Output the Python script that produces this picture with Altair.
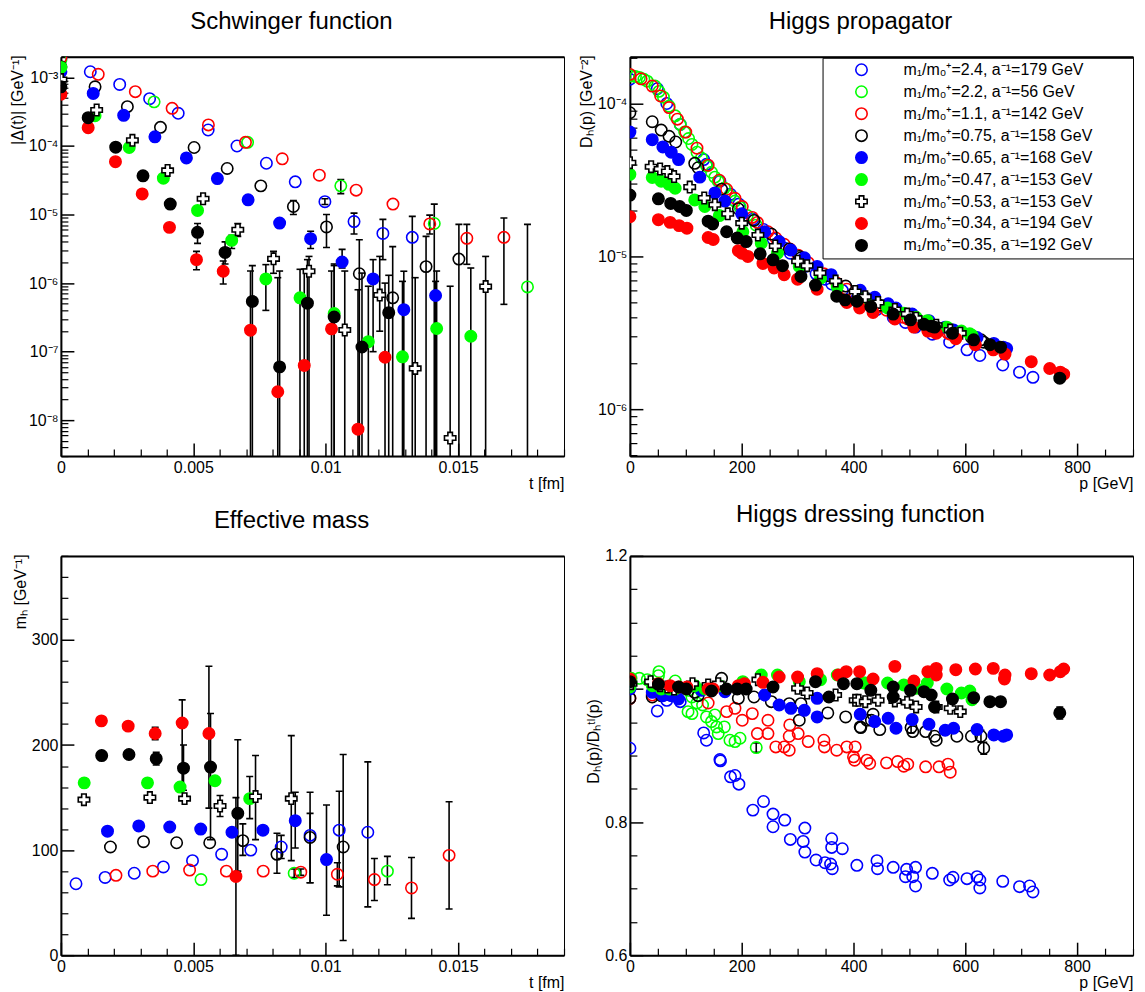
import altair as alt
import pandas as pd

FONT = "Liberation Sans"
PADL = "\u2800" * 3

KEYS = ["bo", "go", "ro", "ko", "bf", "gf", "wc", "rf", "kf"]
LABELS = [
    "m₁/m₀⁺=2.4, a⁻¹=179 GeV" + PADL,
    "m₁/m₀⁺=2.2, a⁻¹=56 GeV" + PADL,
    "m₁/m₀⁺=1.1, a⁻¹=142 GeV" + PADL,
    "m₁/m₀⁺=0.75, a⁻¹=158 GeV" + PADL,
    "m₁/m₀⁺=0.65, a⁻¹=168 GeV" + PADL,
    "m₁/m₀⁺=0.47, a⁻¹=153 GeV" + PADL,
    "m₁/m₀⁺=0.53, a⁻¹=153 GeV" + PADL,
    "m₁/m₀⁺=0.34, a⁻¹=194 GeV" + PADL,
    "m₁/m₀⁺=0.35, a⁻¹=192 GeV" + PADL,
]
STROKES = ["#0000ff", "#00ff00", "#ff0000", "#000000", "#0000ff", "#00ff00", "#000000", "#ff0000", "#000000"]
FILLS = ["transparent", "transparent", "transparent", "transparent", "#0000ff", "#00ff00", "#ffffff", "#ff0000", "#000000"]
SHAPES = ["circle", "circle", "circle", "circle", "circle", "circle", "cross", "circle", "circle"]

# ---------------- Schwinger function |Delta(t)| ----------------
SCHW_T = {
    "bo": [0, 0.00111, 0.00222, 0.00335, 0.00443, 0.00556, 0.00665, 0.00776, 0.00885, 0.00997, 0.01107, 0.01216, 0.01327],
    "go": [0, 0.00352, 0.00705, 0.01057, 0.01410, 0.01762],
    "ro": [0, 0.00141, 0.00281, 0.00420, 0.00557, 0.00697, 0.00836, 0.00976, 0.01115, 0.01254, 0.01393, 0.01533, 0.01673],
    "ko": [0, 0.00129, 0.00251, 0.00376, 0.00503, 0.00628, 0.00755, 0.00878, 0.01003, 0.01127, 0.01253, 0.01379, 0.01503],
    "bf": [0, 0.00122, 0.00237, 0.00355, 0.00474, 0.00591, 0.00707, 0.00826, 0.00943, 0.01062, 0.01179, 0.01295, 0.01415],
    "gf": [0, 0.00129, 0.00258, 0.00387, 0.00516, 0.00645, 0.00774, 0.00903, 0.01032, 0.01161, 0.01290, 0.01419, 0.01548],
    "wc": [0, 0.00135, 0.00270, 0.00403, 0.00537, 0.00668, 0.00803, 0.00937, 0.01072, 0.01204, 0.01338, 0.01470, 0.01604],
    "rf": [0, 0.00103, 0.00206, 0.00307, 0.00410, 0.00512, 0.00613, 0.00716, 0.00819, 0.00919, 0.01022, 0.01122, 0.01224],
    "kf": [0, 0.00103, 0.00207, 0.00310, 0.00413, 0.00516, 0.00620, 0.00723, 0.00826, 0.00931, 0.01032, 0.01137, 0.01238],
}
SCHW_V = {
    "bo": [1.9e-3, 1.21e-3, 7.9e-4, 4.9e-4, 3.0e-4, 1.71e-4, 1.0e-4, 5.6e-5, 3.0e-5, 1.54e-5, 7.9e-6, 5.3e-6, 4.65e-6],
    "go": [1.8e-3, 4.4e-4, 1.13e-4, 2.62e-5, 7.4e-6, 8.8e-7],
    "ro": [1.95e-3, 1.11e-3, 6.2e-4, 3.54e-4, 2.03e-4, 1.13e-4, 6.5e-5, 3.75e-5, 2.27e-5, 1.42e-5, 7.3e-6, 4.5e-6, 4.65e-6],
    "ko": [1.43e-3, 7.3e-4, 3.75e-4, 1.87e-4, 9.5e-5, 4.7e-5, 2.62e-5, 1.31e-5, 6.6e-6, 1.37e-6, 6.1e-7, 1.74e-6, 2.24e-6],
    "bf": [1.21e-3, 5.85e-4, 2.8e-4, 1.36e-4, 6.7e-5, 3.35e-5, 1.64e-5, 7.5e-6, 4.45e-6, 2.03e-6, 1.15e-6, 4.1e-7, 6.6e-7],
    "gf": [1.4e-3, 2.77e-4, 9.5e-5, 3.39e-5, 1.15e-5, 4.2e-6, 1.15e-6, 6.1e-7, 3.6e-7, 1.4e-7, 8.4e-8, 2.18e-7, 1.68e-7],
    "wc": [9.3e-4, 3.35e-4, 1.21e-4, 4.4e-5, 1.70e-5, 6.0e-6, 2.26e-6, 1.49e-6, 2.07e-7, 6.7e-7, 5.7e-8, 5.5e-9, 8.9e-7],
    "rf": [5.7e-4, 1.85e-4, 5.9e-5, 2.0e-5, 6.5e-6, 2.2e-6, 1.49e-6, 2.06e-7, 2.6e-8, 6.3e-8, 2.15e-7, 7.4e-9, 8.3e-8],
    "kf": [7.3e-4, 2.59e-4, 9.6e-5, 3.67e-5, 1.42e-5, 5.5e-6, 2.8e-6, 5.4e-7, 6.0e-8, 5.1e-7, 3.2e-7, 1.17e-7, 3.7e-7],
}
# (point index, low, high)
SCHW_ERR = {
    "bo": [(9, 1.4e-5, 1.7e-5), (10, 5.2e-6, 1.05e-5), (11, 2.2e-6, 8.5e-6), (12, 1e-10, 9.4e-6)],
    "go": [(3, 2.02e-5, 3.24e-5), (4, 1e-10, 1.42e-5), (5, 1e-10, 7.2e-6)],
    "ro": [(10, 5.2e-6, 9.8e-6), (11, 1.88e-6, 7.2e-6), (12, 4.9e-7, 8.9e-6)],
    "ko": [(7, 1.0e-5, 1.6e-5), (8, 3.3e-6, 1.0e-5), (9, 1e-10, 4.3e-6), (10, 1e-10, 3.4e-6), (11, 1e-10, 4.8e-6), (12, 1e-10, 7.2e-6)],
    "bf": [(8, 3.2e-6, 5.7e-6), (9, 1.66e-6, 3.1e-6), (10, 1.0e-7, 2.2e-6), (11, 1e-10, 1.49e-6), (12, 1e-10, 1.06e-6)],
    "gf": [(5, 3.2e-6, 5.0e-6), (6, 4.0e-7, 1.86e-6), (7, 1e-10, 1.59e-6), (8, 1e-10, 1.9e-6), (9, 1e-10, 9e-7), (10, 1e-10, 1.06e-6), (11, 1e-10, 1.5e-6), (12, 1e-10, 1.66e-6)],
    "wc": [(5, 4.8e-6, 7.4e-6), (6, 1.39e-6, 2.9e-6), (7, 1e-10, 2.45e-6), (8, 1e-10, 1.5e-6), (9, 1.99e-7, 2.45e-6), (10, 1e-10, 1.2e-6), (11, 1e-10, 9.0e-7), (12, 1e-10, 2.45e-6)],
    "rf": [(5, 1.57e-6, 2.9e-6), (6, 9.7e-7, 2.1e-6), (7, 1e-10, 1.5e-6), (8, 1e-10, 1.2e-6), (9, 1e-10, 1.6e-6), (10, 1e-10, 1.5e-6), (11, 1e-10, 8e-7), (12, 1e-10, 1.0e-6)],
    "kf": [(5, 3.8e-6, 7.4e-6), (6, 1.9e-6, 4.0e-6), (7, 1e-10, 1.8e-6), (8, 1e-10, 1.5e-6), (9, 1e-10, 2.2e-6), (10, 1e-10, 1.8e-6), (11, 1e-10, 1.4e-6), (12, 1e-10, 1.3e-6)],
}

# ---------------- Higgs propagator D_H(p) ----------------
PROP_P = {
    "bo": [0, 49, 66, 90, 132, 137, 161, 180, 195, 220, 239, 256, 277, 287, 310, 313, 333, 349, 361, 380, 406, 442, 471, 493, 511, 541, 572, 603, 626, 667, 697, 721],
    "go": [0, 10, 17, 25, 31, 45, 52, 60, 70, 81, 90, 98, 105, 111, 120, 128, 137, 146, 152, 158, 169, 179, 188, 197, 210, 226],
    "ro": [0, 20, 40, 55, 70, 85, 100, 120, 140, 160, 173, 188, 201, 219, 228, 247, 261, 276, 286, 301, 319, 347, 370, 388, 403, 424, 445, 459, 479, 490, 497, 529, 553, 569, 573],
    "ko": [0, 40, 56, 70, 82, 116, 122, 164, 194, 222, 253, 285, 303, 306, 354, 386, 413, 424, 432, 447, 503, 506, 529, 545, 548, 585, 611, 628, 633],
    "bf": [0, 40, 59, 74, 87, 125, 152, 170, 200, 241, 267, 288, 312, 335, 360, 412, 438, 462, 476, 505, 535, 564, 579, 621, 651, 668, 674],
    "gf": [0, 40, 56, 70, 81, 116, 134, 160, 202, 235, 264, 303, 341, 371, 418, 421, 461, 490, 512, 532, 567, 593, 608, 612],
    "wc": [0, 38, 54, 67, 79, 107, 133, 152, 175, 200, 229, 260, 300, 317, 340, 368, 403, 421, 444, 474, 496, 512, 548, 573, 591],
    "rf": [0, 51, 72, 88, 102, 140, 149, 194, 200, 211, 238, 258, 276, 300, 335, 388, 411, 435, 474, 508, 533, 548, 583, 618, 650, 671, 718, 751, 770, 776],
    "kf": [0, 51, 73, 89, 101, 140, 148, 173, 192, 208, 233, 256, 273, 306, 332, 370, 385, 406, 431, 471, 502, 526, 539, 545, 577, 615, 644, 663, 769],
}
PROP_D = {
    "bo": [1.44e-4, 1.25e-4, 1.0e-4, 7.3e-5, 4.3e-5, 4.0e-5, 3.1e-5, 2.55e-5, 2.2e-5, 1.75e-5, 1.5e-5, 1.3e-5, 1.13e-5, 1.05e-5, 9.0e-6, 8.6e-6, 7.7e-6, 7.1e-6, 6.6e-6, 6.0e-6, 5.3e-6, 4.5e-6, 4.0e-6, 3.7e-6, 3.45e-6, 3.1e-6, 2.75e-6, 2.45e-6, 2.25e-6, 1.95e-6, 1.75e-6, 1.62e-6],
    "go": [1.52e-4, 1.5e-4, 1.48e-4, 1.44e-4, 1.4e-4, 1.3e-4, 1.2e-4, 1.1e-4, 9.6e-5, 8.3e-5, 7.3e-5, 6.5e-5, 5.9e-5, 5.4e-5, 4.8e-5, 4.4e-5, 3.9e-5, 3.55e-5, 3.3e-5, 3.1e-5, 2.8e-5, 2.5e-5, 2.3e-5, 2.1e-5, 1.85e-5, 1.6e-5],
    "ro": [1.55e-4, 1.45e-4, 1.3e-4, 1.12e-4, 9.4e-5, 7.9e-5, 6.5e-5, 5.1e-5, 3.95e-5, 3.15e-5, 2.75e-5, 2.4e-5, 2.12e-5, 1.8e-5, 1.67e-5, 1.45e-5, 1.32e-5, 1.2e-5, 1.12e-5, 1.02e-5, 9.1e-6, 7.7e-6, 6.7e-6, 6.1e-6, 5.7e-6, 5.1e-6, 4.7e-6, 4.45e-6, 4.15e-6, 4.0e-6, 3.9e-6, 3.55e-6, 3.3e-6, 3.15e-6, 3.1e-6],
    "ko": [8.7e-5, 7.6e-5, 6.7e-5, 6.1e-5, 5.6e-5, 4.06e-5, 3.8e-5, 2.75e-5, 2.05e-5, 1.72e-5, 1.4e-5, 1.12e-5, 1.0e-5, 9.8e-6, 7.5e-6, 6.4e-6, 5.6e-6, 5.3e-6, 5.1e-6, 4.8e-6, 3.95e-6, 3.9e-6, 3.65e-6, 3.5e-6, 3.45e-6, 3.15e-6, 2.95e-6, 2.85e-6, 2.75e-6],
    "bf": [6.5e-5, 5.8e-5, 5.2e-5, 4.8e-5, 4.3e-5, 3.3e-5, 2.6e-5, 2.3e-5, 1.9e-5, 1.45e-5, 1.25e-5, 1.1e-5, 9.8e-6, 8.6e-6, 7.6e-6, 6.0e-6, 5.4e-6, 4.9e-6, 4.6e-6, 4.2e-6, 3.8e-6, 3.45e-6, 3.3e-6, 2.95e-6, 2.7e-6, 2.55e-6, 2.5e-6],
    "gf": [3.44e-5, 3.28e-5, 3.1e-5, 2.96e-5, 2.79e-5, 2.34e-5, 2.12e-5, 1.85e-5, 1.45e-5, 1.22e-5, 1.05e-5, 8.6e-6, 7.2e-6, 6.3e-6, 5.3e-6, 5.25e-6, 4.6e-6, 4.25e-6, 4.0e-6, 3.8e-6, 3.45e-6, 3.25e-6, 3.12e-6, 3.05e-6],
    "wc": [4.1e-5, 3.86e-5, 3.73e-5, 3.59e-5, 3.33e-5, 2.84e-5, 2.41e-5, 2.18e-5, 1.9e-5, 1.65e-5, 1.38e-5, 1.17e-5, 9.3e-6, 8.7e-6, 7.8e-6, 6.9e-6, 5.9e-6, 5.45e-6, 5.0e-6, 4.5e-6, 4.2e-6, 3.95e-6, 3.55e-6, 3.3e-6, 3.15e-6],
    "rf": [1.82e-5, 1.74e-5, 1.67e-5, 1.59e-5, 1.53e-5, 1.33e-5, 1.29e-5, 1.09e-5, 1.05e-5, 1.0e-5, 9.0e-6, 8.4e-6, 7.6e-6, 7.1e-6, 6.1e-6, 5.0e-6, 4.6e-6, 4.3e-6, 3.9e-6, 3.45e-6, 3.25e-6, 3.15e-6, 2.9e-6, 2.65e-6, 2.45e-6, 2.3e-6, 2.05e-6, 1.85e-6, 1.75e-6, 1.7e-6],
    "kf": [2.52e-5, 2.38e-5, 2.22e-5, 2.12e-5, 2.0e-5, 1.7e-5, 1.63e-5, 1.45e-5, 1.32e-5, 1.25e-5, 1.04e-5, 9.5e-6, 8.7e-6, 7.4e-6, 6.5e-6, 5.5e-6, 5.2e-6, 5.1e-6, 4.7e-6, 4.2e-6, 3.85e-6, 3.6e-6, 3.5e-6, 3.45e-6, 3.15e-6, 2.85e-6, 2.65e-6, 2.55e-6, 1.6e-6],
}
PROP_ERR = {}

# ---------------- Effective mass m_H(t) ----------------
MEFF_T = {
    "bo": [0.00057, 0.00167, 0.00277, 0.00387, 0.00497, 0.00607, 0.00717, 0.00832, 0.00941, 0.01051, 0.01159],
    "go": [0.00529, 0.00881, 0.01233],
    "ro": [0.00208, 0.00347, 0.00486, 0.00625, 0.00764, 0.00906, 0.01044, 0.01184, 0.01324, 0.01466],
    "ko": [0.00187, 0.00312, 0.00437, 0.00562, 0.00687, 0.00816, 0.00941, 0.01066],
    "bf": [0.00176, 0.00294, 0.00411, 0.00528, 0.00646, 0.00763, 0.00885, 0.01003],
    "gf": [0.00088, 0.00327, 0.00450, 0.00582, 0.00713],
    "wc": [0.00087, 0.00336, 0.00467, 0.00601, 0.00735, 0.00870],
    "rf": [0.00153, 0.00254, 0.00356, 0.00458, 0.00559, 0.00661],
    "kf": [0.00154, 0.00257, 0.00360, 0.00463, 0.00565, 0.00668],
}
MEFF_M = {
    "bo": [68, 74, 78, 84, 90, 96, 100, 103, 114, 119, 117],
    "go": [72, 78, 80],
    "ro": [76, 80, 81, 80, 80, 79, 77, 72, 64, 95],
    "ko": [103, 108, 107, 107, 109, 96, 112, 103],
    "bf": [118, 123, 122, 120, 117, 119, 128, 91],
    "gf": [164, 164, 160, 166, 149],
    "wc": [148, 150, 149, 142, 151, 149],
    "rf": [223, 218, 211, 221, 211, 75],
    "kf": [190, 191, 187, 178, 179, 135],
}
MEFF_ERR = {
    "bo": [(7, 92, 114), (8, 69, 155), (9, 65, 156), (10, 46, 184)],
    "go": [(1, 74, 82), (2, 67, 94)],
    "ro": [(5, 76, 82), (6, 66, 88), (7, 52, 92), (8, 35, 93), (9, 44, 146)],
    "ko": [(4, 95, 125), (5, 78, 116), (6, 69, 135), (7, 14, 191)],
    "bf": [(6, 102, 155), (7, 38, 143)],
    "gf": [(4, 130, 170)],
    "wc": [(3, 132, 152), (4, 110, 190), (5, 90, 209)],
    "rf": [(2, 205, 217), (3, 157, 243), (4, 140, 275), (5, 0, 150)],
    "kf": [(2, 181, 193), (3, 157, 200), (4, 110, 230), (5, 80, 205)],
}

# ---------------- Higgs dressing function ----------------
DRESS_P = {
    "bo": [0, 49, 66, 90, 132, 137, 161, 162, 180, 188, 195, 220, 239, 256, 256, 277, 287, 313, 310, 313, 333, 349, 359, 361, 361, 362, 380, 406, 442, 443, 471, 495, 493, 506, 511, 511, 541, 572, 578, 603, 621, 626, 626, 667, 697, 715, 721],
    "go": [2, 17, 31, 52, 51, 81, 105, 111, 120, 104, 111, 130, 137, 152, 146, 155, 169, 158, 179, 188, 197, 226],
    "ro": [0, 40, 70, 140, 173, 188, 201, 219, 228, 247, 247, 261, 276, 285, 286, 285, 301, 319, 347, 348, 370, 388, 403, 400, 424, 402, 429, 459, 479, 490, 497, 529, 553, 569, 573],
    "ko": [0, 40, 56, 70, 82, 116, 122, 164, 194, 222, 253, 285, 306, 303, 354, 386, 412, 424, 413, 432, 435, 447, 503, 506, 529, 545, 548, 585, 611, 628, 633],
    "bf": [0, 40, 59, 74, 87, 128, 170, 241, 267, 288, 312, 335, 335, 412, 438, 462, 476, 505, 535, 564, 579, 621, 651, 668, 674],
    "gf": [0, 40, 56, 70, 81, 116, 134, 160, 202, 235, 264, 303, 341, 371, 418, 421, 461, 490, 512, 532, 567, 593, 608, 612],
    "wc": [2, 37, 54, 67, 79, 112, 140, 158, 229, 300, 317, 368, 403, 409, 421, 444, 474, 496, 512, 548, 573, 591],
    "rf": [0, 51, 72, 88, 102, 140, 149, 194, 205, 238, 267, 300, 335, 373, 387, 411, 435, 474, 508, 533, 548, 548, 583, 618, 650, 670, 671, 718, 751, 770, 776],
    "kf": [0, 51, 87, 101, 146, 173, 192, 208, 256, 332, 356, 382, 406, 431, 471, 471, 502, 526, 539, 545, 577, 615, 644, 663, 769],
}
DRESS_R = {
    "bo": [0.911, 0.967, 0.983, 0.981, 0.934, 0.923, 0.894, 0.892, 0.868, 0.870, 0.857, 0.818, 0.831, 0.812, 0.793, 0.803, 0.774, 0.791, 0.771, 0.755, 0.743, 0.739, 0.737, 0.775, 0.762, 0.730, 0.760, 0.735, 0.742, 0.730, 0.732, 0.729, 0.718, 0.718, 0.732, 0.704, 0.723, 0.713, 0.717, 0.715, 0.718, 0.713, 0.701, 0.711, 0.703, 0.704, 0.695],
    "go": [1.016, 1.016, 1.014, 1.026, 1.020, 1.012, 0.998, 0.988, 0.979, 0.966, 0.963, 0.976, 0.958, 0.961, 0.951, 0.943, 0.943, 0.933, 0.923, 0.921, 0.926, 0.912],
    "ro": [0.986, 0.991, 0.992, 0.979, 0.966, 0.971, 0.953, 0.963, 0.933, 0.953, 0.933, 0.913, 0.913, 0.908, 0.946, 0.929, 0.933, 0.921, 0.923, 0.913, 0.908, 0.913, 0.913, 0.898, 0.893, 0.893, 0.888, 0.889, 0.891, 0.884, 0.887, 0.883, 0.883, 0.887, 0.875],
    "ko": [0.986, 0.988, 0.990, 0.992, 0.990, 0.995, 0.990, 1.016, 0.986, 0.988, 0.981, 0.978, 0.978, 0.953, 0.964, 0.958, 0.943, 0.953, 0.942, 0.953, 0.962, 0.939, 0.942, 0.936, 0.936, 0.929, 0.923, 0.929, 0.929, 0.929, 0.911],
    "bf": [1.0, 0.995, 0.99, 0.99, 0.985, 0.998, 0.996, 0.991, 0.976, 0.971, 0.968, 0.986, 0.958, 0.962, 0.951, 0.956, 0.941, 0.954, 0.947, 0.938, 0.941, 0.939, 0.931, 0.929, 0.931],
    "gf": [1.003, 1.005, 1.0, 1.0, 1.0, 1.005, 1.0, 1.005, 1.011, 1.021, 1.021, 1.011, 1.014, 1.021, 1.009, 1.009, 1.009, 1.006, 1.001, 1.009, 1.0, 0.994, 0.997, 0.984],
    "wc": [1.008, 1.011, 1.005, 1.003, 1.0, 1.008, 1.006, 1.008, 1.014, 1.001, 0.994, 0.991, 0.983, 0.983, 0.981, 0.983, 0.982, 0.980, 0.973, 0.973, 0.971, 0.966],
    "rf": [1.015, 1.008, 1.005, 1.003, 1.003, 1.0, 1.0, 1.005, 1.008, 1.01, 1.018, 1.018, 1.023, 1.021, 1.026, 1.026, 1.015, 1.034, 1.012, 1.026, 1.031, 1.021, 1.029, 1.030, 1.031, 1.015, 1.021, 1.023, 1.021, 1.026, 1.030],
    "kf": [1.011, 1.007, 1.003, 1.0, 0.997, 1.0, 1.0, 1.0, 1.003, 1.011, 0.988, 1.008, 1.008, 0.998, 1.003, 0.988, 0.998, 0.996, 0.991, 0.973, 0.985, 0.987, 0.981, 0.981, 0.964],
}
DRESS_ERR = {
    "kf": [(24, 0.955, 0.973), (3, 0.994, 1.006)],
    "ko": [(29, 0.920, 0.938), (30, 0.902, 0.920), (22, 0.934, 0.950)],
    "go": [(21, 0.905, 0.919)],
}

SUP = {"-": "⁻", "0": "⁰", "1": "¹", "2": "²", "3": "³", "4": "⁴", "5": "⁵", "6": "⁶", "7": "⁷", "8": "⁸", "9": "⁹"}


def sup(n):
    return "".join(SUP[c] for c in str(n))


def log_label_expr(exps):
    s = ""
    for e in exps:
        s += f"abs(log(datum.value)/LN10 - ({e})) < 0.01 ? '10{sup(e)}' : "
    return s + "''"


def log_minor(lo_exp, hi_exp, vmin, vmax):
    out = []
    for e in range(lo_exp, hi_exp + 1):
        for k in range(2, 10):
            v = k * 10.0 ** e
            if vmin <= v <= vmax:
                out.append(float(f"{v:.3g}"))
    return out


def lin_ticks(start, stop, step, exclude_step):
    out = []
    n = int(round((stop - start) / step))
    for i in range(n + 1):
        v = round(start + i * step, 6)
        if abs(round(v / exclude_step) * exclude_step - v) > 1e-9:
            out.append(v)
    return out


def pts_df(X, Y):
    rows = []
    for k, lab in zip(KEYS, LABELS):
        for xv, yv in zip(X[k], Y[k]):
            rows.append({"label": lab, "x": xv, "y": yv})
    return pd.DataFrame(rows)


def err_dfs(X, ERR):
    rows, caps = [], []
    for k in KEYS:
        for idx, lo, hi in ERR.get(k, []):
            xv = X[k][idx]
            rows.append({"x": xv, "lo": lo, "hi": hi})
            caps.append({"x": xv, "yv": lo})
            caps.append({"x": xv, "yv": hi})
    if not rows:
        rows = [{"x": -1.0, "lo": -1.0, "hi": -1.0}]
        caps = [{"x": -1.0, "yv": -1.0}]
    return pd.DataFrame(rows), pd.DataFrame(caps)


AXIS_COMMON = dict(grid=False, labelFont=FONT, labelFontSize=16, labelColor="black",
                   tickColor="black", titleFont=FONT, titleFontSize=16, titleFontWeight="normal",
                   titleColor="black", labelFlush=False, labelOverlap=False, labelBound=False)


def major_x_axis(values, label_expr, title):
    return alt.Axis(orient="bottom", values=values, tickSize=13, offset=-13, domain=False,
                    tickWidth=1.5, labelExpr=label_expr, labelPadding=3,
                    title=title, titleAnchor="end", titlePadding=0, **AXIS_COMMON)


def major_y_axis(values, label_expr, title, title_y):
    return alt.Axis(orient="left", values=values, tickSize=13, offset=-13, domain=False,
                    tickWidth=1.5, labelExpr=label_expr, labelPadding=3,
                    title=title, titleAngle=270, titleAlign="right", titleY=title_y,
                    titlePadding=3, **AXIS_COMMON)


def minor_axis(orient, values):
    return alt.Axis(orient=orient, values=values, tickSize=7, offset=-7, domain=False,
                    tickWidth=1.2, labels=False, title=None, **AXIS_COMMON)


def dom_axis(orient, width=2):
    return alt.Axis(orient=orient, ticks=False, labels=False, domain=True, domainColor="black",
                    domainWidth=width, title=None, grid=False)


PW, PH = 504, 400


def panel(pdf, edf, cdf, xs, ys, xmaj, xmin, ymaj, ymin, title, show_legend):
    def X(ax):
        return alt.X("x:Q", scale=xs, axis=ax)

    def Y(ax, field="y:Q"):
        return alt.Y(field, scale=ys, axis=ax)

    l_major = alt.Chart(pdf).mark_point(opacity=0).encode(x=X(xmaj), y=Y(ymaj))
    l_minor = alt.Chart(pdf).mark_point(opacity=0).encode(x=X(xmin), y=Y(ymin))
    l_top = alt.Chart(pdf).mark_point(opacity=0).encode(x=X(dom_axis("top")), y=Y(None))
    rules = alt.Chart(edf).mark_rule(color="black", strokeWidth=1.6, clip=True).encode(
        x=X(None), y=Y(None, "lo:Q"), y2="hi:Q")
    caps = alt.Chart(cdf).mark_tick(orient="horizontal", size=7, thickness=1.6, color="black",
                                    clip=True, opacity=1).encode(x=X(None), y=Y(None, "yv:Q"))
    if show_legend:
        leg = alt.Legend(title=None, orient="none", legendX=193, legendY=1, padding=4,
                         strokeColor="black", fillColor="white", labelFont=FONT, labelFontSize=16,
                         labelColor="black", symbolSize=130, symbolStrokeWidth=1.6,
                         rowPadding=4, symbolOffset=27, labelOffset=34, labelLimit=500)
    else:
        leg = None
    pts = alt.Chart(pdf).mark_point(filled=True, opacity=1, size=130, strokeWidth=1.6, clip=True).encode(
        x=X(dom_axis("bottom")), y=Y(dom_axis("left")),
        shape=alt.Shape("label:N", scale=alt.Scale(domain=LABELS, range=SHAPES), legend=leg),
        stroke=alt.Stroke("label:N", scale=alt.Scale(domain=LABELS, range=STROKES), legend=leg),
        fill=alt.Fill("label:N", scale=alt.Scale(domain=LABELS, range=FILLS), legend=leg),
    )
    return alt.layer(l_major, l_minor, l_top, rules, caps, pts).resolve_axis(
        x="independent", y="independent").properties(
        width=PW, height=PH,
        title=alt.TitleParams(text=title, font=FONT, fontSize=24, fontWeight="normal",
                              color="black", anchor="middle", offset=21, dx=-21))


# scales
x_t = alt.Scale(domain=[0, 0.019], nice=False, zero=False)
x_p = alt.Scale(domain=[0, 900], nice=False, zero=False)
y_schw = alt.Scale(type="log", domain=[3.0e-9, 2.0e-3], nice=False)
y_prop = alt.Scale(type="log", domain=[4.95e-7, 2.02e-4], nice=False)
y_meff = alt.Scale(domain=[0, 380], nice=False, zero=False)
y_dress = alt.Scale(domain=[0.6, 1.2], nice=False, zero=False)

t_major = major_x_axis([0, 0.005, 0.01, 0.015], "format(datum.value, '~g')", "t [fm]")
t_minor = minor_axis("bottom", lin_ticks(0, 0.019, 0.001, 0.005))
p_major = major_x_axis([0, 200, 400, 600, 800], "format(datum.value, 'd')", "p [GeV]")
p_minor = minor_axis("bottom", lin_ticks(0, 900, 50, 200))

schw_ymaj = major_y_axis([1e-8, 1e-7, 1e-6, 1e-5, 1e-4, 1e-3], log_label_expr([-8, -7, -6, -5, -4, -3]),
                         "|Δ(t)| [GeV⁻¹]", -2)
schw_ymin = minor_axis("left", log_minor(-9, -3, 3.0e-9, 2.0e-3))
prop_ymaj = major_y_axis([1e-6, 1e-5, 1e-4], log_label_expr([-6, -5, -4]), "Dₕ(p) [GeV⁻²]", -2)
prop_ymin = minor_axis("left", log_minor(-7, -4, 4.95e-7, 2.02e-4))
meff_ymaj = major_y_axis([0, 100, 200, 300], "format(datum.value, 'd')", "mₕ [GeV⁻¹]", -2)
meff_ymin = minor_axis("left", lin_ticks(0, 380, 20, 100))
dress_ymaj = major_y_axis([0.6, 0.8, 1.0, 1.2],
                          "abs(datum.value - 1) < 1e-6 ? '' : format(datum.value, '.1f')",
                          "Dₕ(p)/Dₕᵗˡ(p)", 143)
dress_ymin = minor_axis("left", lin_ticks(0.6, 1.2, 0.05, 0.2))

s_pdf = pts_df(SCHW_T, SCHW_V)
s_edf, s_cdf = err_dfs(SCHW_T, SCHW_ERR)
p_pdf = pts_df(PROP_P, PROP_D)
p_edf, p_cdf = err_dfs(PROP_P, PROP_ERR)
m_pdf = pts_df(MEFF_T, MEFF_M)
m_edf, m_cdf = err_dfs(MEFF_T, MEFF_ERR)
d_pdf = pts_df(DRESS_P, DRESS_R)
d_edf, d_cdf = err_dfs(DRESS_P, DRESS_ERR)

c1 = panel(s_pdf, s_edf, s_cdf, x_t, y_schw, t_major, t_minor, schw_ymaj, schw_ymin, "Schwinger function", False)
c2 = panel(p_pdf, p_edf, p_cdf, x_p, y_prop, p_major, p_minor, prop_ymaj, prop_ymin, "Higgs propagator", True)
c3 = panel(m_pdf, m_edf, m_cdf, x_t, y_meff, t_major, t_minor, meff_ymaj, meff_ymin, "Effective mass", False)
c4 = panel(d_pdf, d_edf, d_cdf, x_p, y_dress, p_major, p_minor, dress_ymaj, dress_ymin, "Higgs dressing function", False)

chart = alt.concat(c1, c2, c3, c4, columns=2, spacing={"row": 100, "column": 66}, bounds="flush").resolve_scale(
    x="independent", y="independent", shape="independent", stroke="independent",
    fill="independent").resolve_legend(
    shape="independent", stroke="independent", fill="independent").configure_view(
    stroke="black", strokeWidth=1).properties(padding={"left": 0, "top": 0, "right": 2, "bottom": 2},
                                               background="white")

chart.save("out.html", embed_options={"renderer": "svg", "actions": False})
